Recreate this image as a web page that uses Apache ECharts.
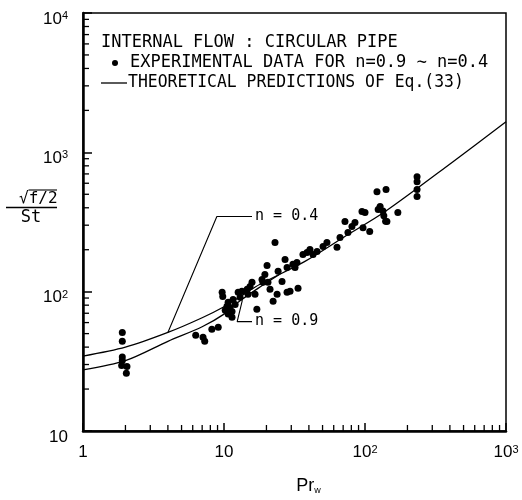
<!DOCTYPE html>
<html><head><meta charset="utf-8">
<script src="https://cdn.jsdelivr.net/npm/echarts@6/dist/echarts.min.js"></script>
<style>html,body{margin:0;padding:0;background:#fff}#c{width:522px;height:500px}</style>
</head><body><div id="c"></div>
<script>
// ---- data ----
const xTicks = [1, 10, 100, 1000];
const xTickLabels = [['1', ''], ['10', ''], ['10', '2'], ['10', '3']];
const yTicks = [10, 100, 1000, 10000];
const yTickLabels = [['10', ''], ['10', '2'], ['10', '3'], ['10', '4']];
const xMinorTicks = [2,3,4,5,6,7,8,9,20,30,40,50,60,70,80,90,200,300,400,500,600,700,800,900];
const yMinorTicks = [20,30,40,50,60,70,80,90,200,300,400,500,600,700,800,900,2000,3000,4000,5000,6000,7000,8000,9000];

const expData = [
  [1.9,51],[1.9,44],[1.9,34],[1.9,32],[1.88,29.5],[2.05,29],[2.03,26],
  [6.3,48.7],[7.1,47],[7.3,44],[8.2,53.7],[9.1,55.5],
  [9.7,99],[9.8,92.5],[10.7,84],[11,77],[11.4,72],[11.4,65.5],[10.7,69],[12,81],[10.5,78.5],[10.2,73.5],[11.6,88],
  [12.6,99],[13.4,100.5],[14.6,104],[15.3,109],[13,91],[14.8,95.7],[16.6,95.7],[15.8,116.6],[17.1,74.7],
  [18.6,122.5],[19.5,133],[20.2,154],[18.9,116.6],[20.5,116.6],[21.2,104],[22.3,85.3],[23,225],[23.8,95.7],
  [24.2,140],[25.8,118.5],[27.1,170],[28,99],[29.4,100.5],[32.9,162],[33.5,105.6],[31.9,149],[28,149],
  [30.8,157],[36.3,185],[38.8,191],[40.7,201],[42.8,185],[45.7,194],[50.4,211],[53.7,225],[63.3,208],
  [66.5,245],[72.1,319],[75.7,266],[80.8,293],[84.9,314],[95.2,376],[100,370],[96.8,288],[108,270],
  [121.6,522],[141,540],[124,388],[128,408],[134,380],[136,350],[140,320],[143,319],[171,370],
  [234,669],[234,616],[234,540],[234,481]
];
const curveN04 = [[1,34.5],[2,40],[4,51],[7,65],[10,78],[13,92],[18,113],[37.5,165],[72,249],[139,376],[421,857],[1000,1656]];
const curveN09 = [[1,27.5],[2,32],[4,44],[7,56],[10,69],[13,86],[18,108],[25,134]];
const leaderN04 = [[4,51],[8.9,346],[15.8,346]];
const leaderN09 = [[13.5,87],[12.4,61],[15.8,61]];
const legendLines = ['INTERNAL FLOW : CIRCULAR PIPE', 'EXPERIMENTAL DATA FOR n=0.9 \u223C n=0.4', 'THEORETICAL PREDICTIONS OF Eq.(33)'];

// ---- chart ----
const chart = echarts.init(document.getElementById('c'));
const mono = '"DejaVu Sans Mono"';
const sans = '"Liberation Sans"';
function tickLabel(ticks, labels) {
  return v => {
    let i = ticks.findIndex(t => Math.abs(Math.log10(t) - Math.log10(v)) < 1e-6);
    if (i < 0) return '';
    const l = labels[i];
    return l[1] ? '{b|' + l[0] + '}{s|' + l[1] + '}' : '{b|' + l[0] + '}';
  };
}
const rich = {
  b: {fontSize: 17, fontFamily: sans, color: '#000'},
  s: {fontSize: 11, fontFamily: sans, color: '#000', verticalAlign: 'top'}
};
const option = {
  animation: false,
  backgroundColor: '#fff',
  grid: {left: 83, right: 16, top: 13, bottom: 68, show: true, borderColor: '#000', borderWidth: 1.5, containLabel: false},
  xAxis: {
    type: 'log', logBase: 10, min: 1, max: 1000,
    axisLine: {lineStyle: {color: '#000', width: 2.5}},
    axisTick: {inside: true, length: 8, lineStyle: {color: '#000', width: 1.5}},
    splitLine: {show: false},
    axisLabel: {margin: 13, formatter: tickLabel(xTicks, xTickLabels), rich: rich},
    name: '{p|Pr}{w|w}', nameLocation: 'middle', nameGap: 46,
    nameTextStyle: {padding: [0, 0, 0, 28], rich: {p: {fontSize: 18, fontFamily: sans, color: '#000'}, w: {fontSize: 9, fontFamily: sans, color: '#000', verticalAlign: 'bottom'}}}
  },
  yAxis: {
    type: 'log', logBase: 10, min: 10, max: 10000,
    axisLine: {lineStyle: {color: '#000', width: 2.5}},
    axisTick: {inside: true, length: 9, lineStyle: {color: '#000', width: 1.5}},
    splitLine: {show: false},
    axisLabel: {margin: 15, padding: [12, 0, 0, 0], formatter: tickLabel(yTicks, yTickLabels), rich: rich}
  },
  series: [
    {type: 'line', data: curveN04, smooth: 0.3, symbol: 'none', lineStyle: {color: '#000', width: 1.3}, z: 3},
    {type: 'line', data: curveN09, smooth: 0.3, symbol: 'none', lineStyle: {color: '#000', width: 1.3}, z: 3},
    {type: 'line', data: leaderN04, symbol: 'none', lineStyle: {color: '#000', width: 1.1}, z: 3,
      endLabel: {show: true, distance: 3, fontFamily: mono, fontSize: 15, color: '#000', formatter: 'n = 0.4'}},
    {type: 'line', data: leaderN09, symbol: 'none', lineStyle: {color: '#000', width: 1.1}, z: 3,
      endLabel: {show: true, distance: 3, fontFamily: mono, fontSize: 15, color: '#000', formatter: 'n = 0.9'}},
    {type: 'scatter', data: expData, symbol: 'circle', symbolSize: 7, itemStyle: {color: '#000', opacity: 1}, z: 4},
    {type: 'scatter', silent: true, z: 10, data: xMinorTicks.map(v => [v, 10]), symbol: 'rect',
      symbolSize: [1.3, 6], symbolOffset: [0, -3], itemStyle: {color: '#000', opacity: 1}, clip: false},
    {type: 'scatter', silent: true, z: 10, data: yMinorTicks.map(v => [1, v]), symbol: 'rect',
      symbolSize: [6, 1.3], symbolOffset: [3, 0], itemStyle: {color: '#000', opacity: 1}, clip: false}
  ],
  graphic: [
    {type: 'text', x: 101, y: 43, style: {text: legendLines[0], font: '17px ' + mono, fill: '#000', verticalAlign: 'middle'}},
    {type: 'circle', shape: {cx: 115, cy: 63, r: 3}, style: {fill: '#000'}},
    {type: 'text', x: 130, y: 63, style: {text: legendLines[1], font: '17px ' + mono, fill: '#000', verticalAlign: 'middle'}},
    {type: 'line', shape: {x1: 101, y1: 83, x2: 127, y2: 83}, style: {stroke: '#000', lineWidth: 1.3}},
    {type: 'text', x: 128, y: 83, scaleX: 0.965, style: {text: legendLines[2], font: '17px ' + mono, fill: '#000', verticalAlign: 'middle'}},
    // y-axis name as a fraction
    {type: 'text', x: 19, y: 199, style: {text: '\u221Af/2', font: '16px ' + mono, fill: '#000', verticalAlign: 'middle'}},
    {type: 'line', shape: {x1: 28.5, y1: 190, x2: 57, y2: 190}, style: {stroke: '#000', lineWidth: 1.1}},
    {type: 'line', shape: {x1: 6, y1: 207.5, x2: 57, y2: 207.5}, style: {stroke: '#000', lineWidth: 1.3}},
    {type: 'text', x: 31, y: 218, style: {text: 'St', font: '17px ' + mono, fill: '#000', align: 'center', verticalAlign: 'middle'}}
  ]
};
chart.setOption(option);
</script>
</body></html>
